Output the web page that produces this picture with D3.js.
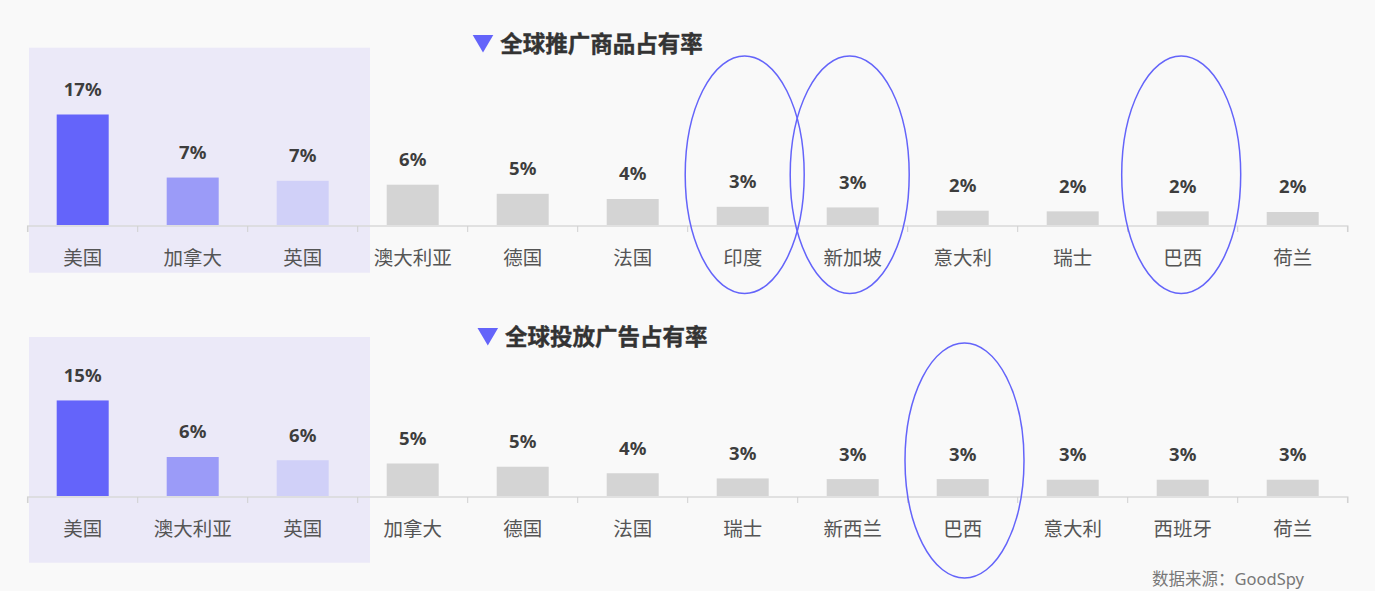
<!DOCTYPE html>
<html>
<head>
<meta charset="utf-8">
<script src="https://cdn.jsdelivr.net/npm/d3@7"></script>
<style>
  html, body { margin: 0; padding: 0; background: #f9f9f9; }
  svg { display: block; font-family: "Noto Sans", "Noto Sans CJK SC", sans-serif; }
</style>
</head>
<body>
<div id="chart"></div>
<script>
// 全球推广商品占有率 (%)
const goodsCountries = ["美国", "加拿大", "英国", "澳大利亚", "德国", "法国", "印度", "新加坡", "意大利", "瑞士", "巴西", "荷兰"];
const goodsShare = [17.0, 7.3, 6.8, 6.2, 4.8, 4.0, 2.8, 2.7, 2.2, 2.1, 2.1, 2.0];
const goodsCircled = ["印度", "新加坡", "巴西"];

// 全球投放广告占有率 (%)
const adsCountries = ["美国", "澳大利亚", "英国", "加拿大", "德国", "法国", "瑞士", "新西兰", "巴西", "意大利", "西班牙", "荷兰"];
const adsShare = [14.7, 6.0, 5.5, 5.0, 4.5, 3.5, 2.7, 2.6, 2.6, 2.5, 2.5, 2.5];
const adsCircled = ["巴西"];

const sourceText = "数据来源：GoodSpy";

const W = 1375, H = 591;
const accent = "#6464fa";
const barColors = ["#6464fa", "#9b9bf8", "#d0d0f8"];
const greyBar = "#d4d4d4";

const svg = d3.select("#chart").append("svg")
    .attr("width", W)
    .attr("height", H);

svg.append("rect").attr("width", W).attr("height", H).attr("fill", "#f9f9f9");

// shared scales
const xScale = d3.scaleBand()
    .domain(d3.range(12))
    .range([27.7, 1347.7])
    .paddingInner(0)
    .paddingOuter(0);
const pxPerUnit = 6.5;
const yMax = 18;
const plotH = yMax * pxPerUnit;

function drawPanel(cfg) {
    const g = svg.append("g")
        .attr("transform", "translate(0," + (cfg.baseline - plotH) + ")");
    const yScale = d3.scaleLinear().domain([0, yMax]).range([plotH, 0]);
    const bw = xScale.bandwidth();
    const barW = 52;

    // highlight block behind top 3
    g.append("rect")
        .attr("x", xScale(0) + 1.3)
        .attr("width", xScale(2) + bw + 12.3 - xScale(0) - 1.3)
        .attr("y", cfg.hlTop - (cfg.baseline - plotH))
        .attr("height", cfg.hlBottom - cfg.hlTop)
        .attr("fill", "#ebe9f8");

    // title
    const tg = svg.append("g");
    tg.append("path")
        .attr("d", "M" + cfg.triX + "," + (cfg.titleY - 8.5) + "h20.6l-10.3,17.5z")
        .attr("fill", accent);
    tg.append("text")
        .attr("x", cfg.triX + 27.5)
        .attr("y", cfg.titleY - 2)
        .attr("dominant-baseline", "central")
        .attr("font-size", 22.5)
        .attr("font-weight", "bold")
        .attr("fill", "#333")
        .attr("stroke", "#333")
        .attr("stroke-width", 0.4)
        .attr("font-family", "'Noto Sans CJK SC', sans-serif")
        .text(cfg.title);

    // axis
    const axis = d3.axisBottom(xScale).tickSize(6).tickFormat("");
    const axisG = g.append("g")
        .attr("transform", "translate(0," + (plotH + 1) + ")")
        .call(axis);
    axisG.select(".domain")
        .attr("stroke", "#d9d9d9")
        .attr("stroke-width", 1.5)
        .attr("d", "M" + xScale.range()[0] + ",6V0H" + xScale.range()[1] + "V6");
    // ticks on band edges
    axisG.selectAll(".tick").remove();
    axisG.selectAll(".edge")
        .data(d3.range(13))
        .join("line")
        .attr("class", "edge")
        .attr("x1", i => xScale.range()[0] + i * bw)
        .attr("x2", i => xScale.range()[0] + i * bw)
        .attr("y1", 0)
        .attr("y2", 6)
        .attr("stroke", "#d0d0d0")
        .attr("stroke-width", 1);

    // bars
    g.selectAll(".bar")
        .data(cfg.values)
        .join("rect")
        .attr("class", "bar")
        .attr("x", (d, i) => xScale(i) + (bw - barW) / 2)
        .attr("width", barW)
        .attr("y", d => yScale(d))
        .attr("height", d => plotH - yScale(d))
        .attr("fill", (d, i) => i < 3 ? barColors[i] : greyBar);

    // value labels
    g.selectAll(".valLabel")
        .data(cfg.values)
        .join("text")
        .attr("class", "valLabel")
        .attr("x", (d, i) => xScale(i) + bw / 2)
        .attr("y", d => yScale(d) - 18.6)
        .attr("text-anchor", "middle")
        .attr("font-size", 18.5)
        .attr("font-weight", "bold")
        .attr("fill", "#3d3d3d")
        .text(d => Math.round(d) + "%");

    // category labels
    g.selectAll(".catLabel")
        .data(cfg.cats)
        .join("text")
        .attr("class", "catLabel")
        .attr("x", (d, i) => xScale(i) + bw / 2)
        .attr("y", plotH + 31.5)
        .attr("dominant-baseline", "central")
        .attr("text-anchor", "middle")
        .attr("font-size", 19.5)
        .attr("fill", "#555")
        .attr("font-family", "'Noto Sans CJK SC', sans-serif")
        .text(d => d);

    // circled countries
    svg.selectAll(null)
        .data(cfg.circled)
        .join("ellipse")
        .attr("cx", (d, i) => xScale(cfg.cats.indexOf(d)) + bw / 2 + (cfg.circleDx[i] || 0))
        .attr("cy", cfg.circleY)
        .attr("rx", 59.5)
        .attr("ry", cfg.circleRy)
        .attr("fill", "none")
        .attr("stroke", accent)
        .attr("stroke-width", 1.5);
}

drawPanel({
    title: "全球推广商品占有率",
    cats: goodsCountries,
    values: goodsShare,
    circled: goodsCircled,
    circleDx: [2, -3, -1.5],
    baseline: 225,
    hlTop: 47.7,
    hlBottom: 272.7,
    titleY: 43.5,
    triX: 472.7,
    circleY: 174.7,
    circleRy: 118.7
});

drawPanel({
    title: "全球投放广告占有率",
    cats: adsCountries,
    values: adsShare,
    circled: adsCircled,
    circleDx: [1.8],
    baseline: 496,
    hlTop: 337,
    hlBottom: 562.7,
    titleY: 336.5,
    triX: 477.5,
    circleY: 460.5,
    circleRy: 117.5
});

svg.append("text")
    .attr("x", 1304)
    .attr("y", 578)
    .attr("dominant-baseline", "central")
    .attr("text-anchor", "end")
    .attr("font-size", 16.5)
    .attr("fill", "#777")
    .text(sourceText);
</script>
</body>
</html>
